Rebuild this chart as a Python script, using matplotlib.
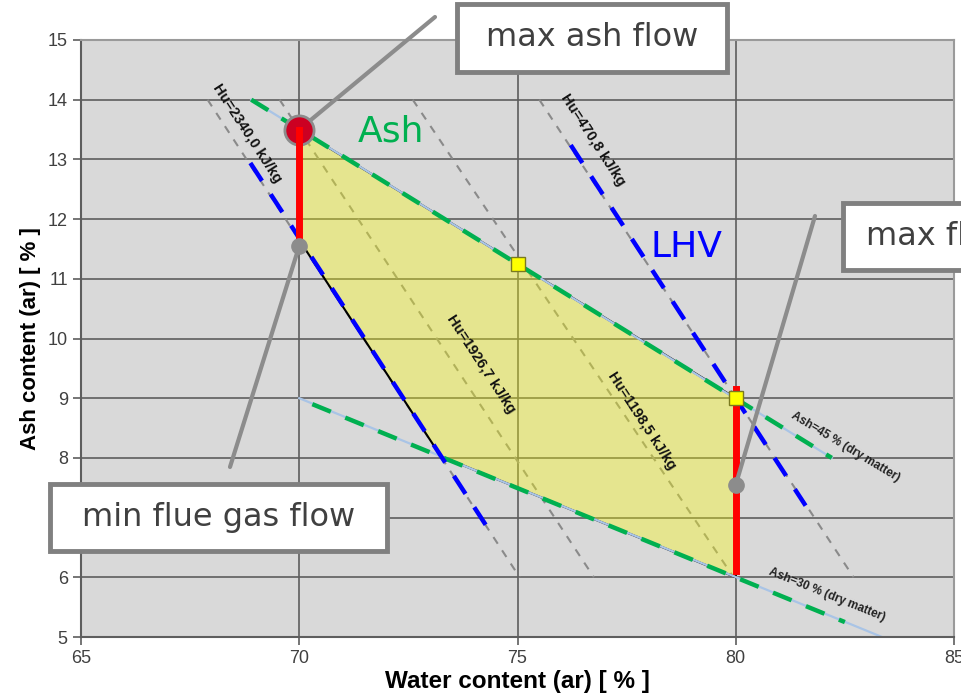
import matplotlib.pyplot as plt
from matplotlib.patches import Rectangle

# donnees
hu_labels = ['Hu=2340,0 kJ/kg', 'Hu=1926,7 kJ/kg', 'Hu=1198,5 kJ/kg', 'Hu=470,8 kJ/kg']
hu_water_top = [67.9, 69.55, 72.6, 75.5]     # eau a cendre = 14 %
hu_water_bottom = [75.05, 76.75, 79.95, 82.7]  # eau a cendre = 6 %
hu_ash = [14.0, 6.0]
hu_label_x = [68.81, 74.17, 77.84, 76.72]
hu_label_y = [13.44, 9.57, 8.62, 13.32]

ash45_water = [68.9, 82.2]
ash45_ash = [14.0, 8.0]
ash30_water = [70.0, 83.35]
ash30_ash = [9.0, 5.0]
green45_water = [68.9, 82.2]
green45_ash = [14.0, 8.0]
green30_water = [70.3, 82.5]
green30_ash = [8.9, 5.25]
ash_labels = ['Ash=45 % (dry matter)', 'Ash=30 % (dry matter)']
ash_label_x = [82.52, 82.09]
ash_label_y = [8.18, 5.70]

lhv1_water = [68.88, 74.27]
lhv1_ash = [12.94, 6.88]
lhv2_water = [76.22, 81.6]
lhv2_ash = [13.24, 7.2]

poly_water = [70, 75, 80, 80, 73.24, 70, 70]
poly_ash = [13.5, 11.25, 9.0, 6.0, 8.03, 11.65, 13.5]

red1_water = [70, 70]
red1_ash = [11.6, 13.5]
red2_water = [80, 80]
red2_ash = [6.1, 9.15]

max_ash_pt = (70, 13.5)
min_flue_pt = (70, 11.55)
max_flue_pt = (80, 7.55)
square_water = [75, 80]
square_ash = [11.25, 9.0]

fig = plt.figure(figsize=(9.61, 7.0), dpi=100)
ax = fig.add_axes([81 / 961, 63 / 700, 873 / 961, 597 / 700])
ax.set_facecolor('#d9d9d9')
ax.set_xlim(65, 85)
ax.set_ylim(5, 15)
ax.set_xticks([65, 70, 75, 80, 85])
ax.set_yticks(range(5, 16))
ax.grid(True, color='#5e5e5e', linewidth=1.2, zorder=0.5)
ax.set_axisbelow(True)
for s in ax.spines.values():
    s.set_color('#9a9a9a')
    s.set_linewidth(1.5)
ax.spines['left'].set_color('#5e5e5e')
ax.spines['bottom'].set_color('#5e5e5e')
ax.tick_params(length=6, width=1.2, color='#5e5e5e', labelsize=13, labelcolor='#404040')
for lab in ax.get_xticklabels() + ax.get_yticklabels():
    lab.set_fontfamily('Liberation Sans')
ax.set_xlabel('Water content (ar) [ % ]', fontsize=17.5, fontweight='bold',
              family='Liberation Sans', labelpad=2)
ax.set_ylabel('Ash content (ar) [ % ]', fontsize=16, fontweight='bold',
              family='Liberation Sans', labelpad=5)

# lignes iso Hu
for i in range(len(hu_labels)):
    ax.plot([hu_water_top[i], hu_water_bottom[i]], hu_ash, color='#8a8a8a',
            lw=1.5, dashes=(3.8, 3.8), zorder=1)
    ax.text(hu_label_x[i], hu_label_y[i], hu_labels[i], rotation=-57,
            ha='center', va='center', rotation_mode='anchor', fontsize=10.5,
            fontweight='bold', family='Liberation Sans', color='#111111', zorder=6)

# zone de fonctionnement
ax.fill(poly_water, poly_ash, color='#ffff00', alpha=0.34, lw=0, zorder=2)
ax.plot(poly_water, poly_ash, color='black', lw=1.5, zorder=2.2)

ax.plot(ash45_water, ash45_ash, color='#a9c4e6', lw=1.6, zorder=2.5)
ax.plot(ash30_water, ash30_ash, color='#a9c4e6', lw=1.6, zorder=2.5)
ax.plot(green45_water, green45_ash, color='#00b050', lw=3.2, dashes=(4.5, 3.5), zorder=3)
ax.plot(green30_water, green30_ash, color='#00b050', lw=3.2, dashes=(4.5, 3.5), zorder=3)
for i in range(len(ash_labels)):
    rot = -31 if i == 0 else -22
    ax.text(ash_label_x[i], ash_label_y[i], ash_labels[i], rotation=rot,
            ha='center', va='center', rotation_mode='anchor', fontsize=8.5,
            fontweight='bold', family='Liberation Sans', color='#222222', zorder=6)

ax.plot(lhv1_water, lhv1_ash, color='#0000ff', lw=3.2, dashes=(4.8, 3.6), zorder=3.5)
ax.plot(lhv2_water, lhv2_ash, color='#0000ff', lw=3.2, dashes=(4.8, 3.6), zorder=3.5)

ax.plot(*max_ash_pt, 'o', ms=21, color='#cc0022', mec='#8c8c8c', mew=2, zorder=3.8)
ax.plot(red1_water, red1_ash, color='#ff0000', lw=5, zorder=4)
ax.plot(red2_water, red2_ash, color='#ff0000', lw=5, zorder=4)
ax.plot(square_water, square_ash, 's', ms=10, color='#ffff00', mec='#7a7a20', mew=1, zorder=5)

ax.text(71.35, 13.46, 'Ash', color='#00b050', fontsize=26, ha='left', va='center', zorder=6)
ax.text(78.05, 11.53, 'LHV', color='#0000ff', fontsize=26, ha='left', va='center', zorder=6)

# lignes de rappel vers les encadres
line_kw = dict(arrowstyle='-', color='#8c8c8c', lw=3, shrinkA=0, shrinkB=0)
ax.annotate('', xy=max_ash_pt, xytext=(435 / 961, 1 - 17 / 700),
            textcoords='figure fraction', arrowprops=line_kw,
            annotation_clip=False, zorder=3.7)
ax.annotate('', xy=min_flue_pt, xytext=(230 / 961, 1 - 467 / 700),
            textcoords='figure fraction', arrowprops=line_kw,
            annotation_clip=False, zorder=4.5)
ax.annotate('', xy=max_flue_pt, xytext=(815 / 961, 1 - 216 / 700),
            textcoords='figure fraction', arrowprops=line_kw,
            annotation_clip=False, zorder=4.5)
ax.plot(*min_flue_pt, 'o', ms=11, color='#8c8c8c', zorder=5)
ax.plot(*max_flue_pt, 'o', ms=11, color='#8c8c8c', zorder=5)

# encadres
boxes = [
    ('max ash flow', 457, 4, 727, 72, 'center'),
    ('min flue gas flow', 50, 484, 387, 551, 'center'),
    ('max flue gas flow', 843, 203, 1200, 270, 'left'),
]
for txt, x0, y0, x1, y1, ha in boxes:
    fig.add_artist(Rectangle((x0 / 961, 1 - y1 / 700), (x1 - x0) / 961, (y1 - y0) / 700,
                             transform=fig.transFigure, facecolor='white',
                             edgecolor='#808080', lw=3.5, zorder=10))
    tx = (x0 + x1) / 2 / 961 if ha == 'center' else (x0 + 23) / 961
    fig.text(tx, 1 - (y0 + y1) / 2 / 700, txt, ha=ha, va='center', fontsize=23,
             color='#404040', zorder=11)

plt.savefig('out.png', dpi=100)
